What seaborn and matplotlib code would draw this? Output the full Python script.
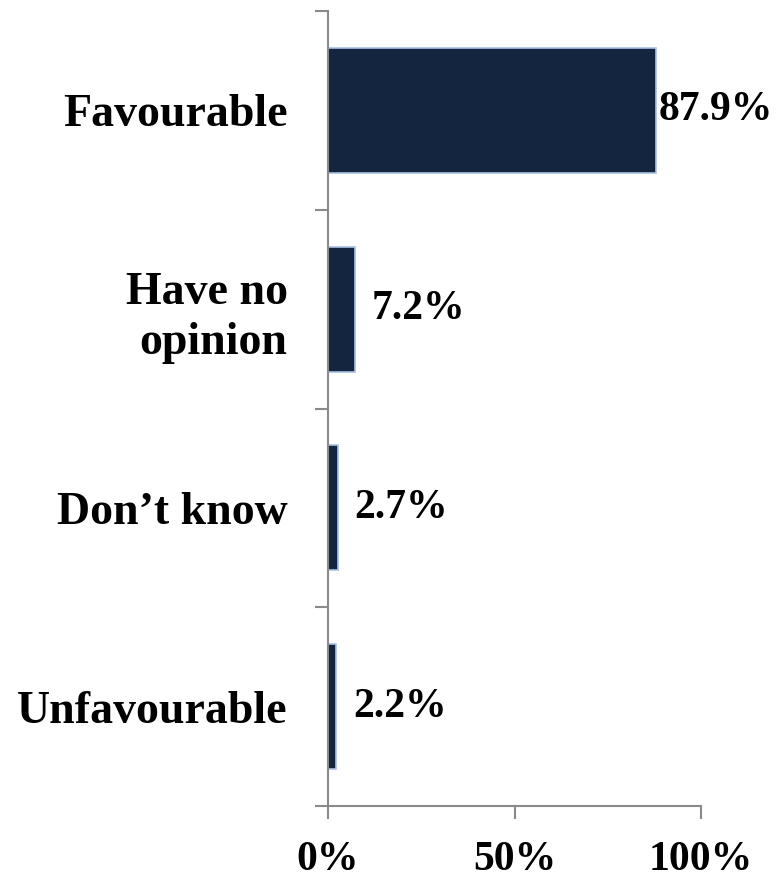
import numpy as np
import matplotlib
matplotlib.use("Agg")
import matplotlib.pyplot as plt
import seaborn as sns

categories = ["Favourable", "Have no\nopinion", "Don\u2019t know", "Unfavourable"]
values = [87.9, 7.2, 2.7, 2.2]
value_labels = ["87.9%", "7.2%", "2.7%", "2.2%"]
x_ticks = [0, 50, 100]
x_tick_labels = ["0%", "50%", "100%"]

sns.set_style("white")
plt.rcParams["font.family"] = ["Liberation Serif", "DejaVu Serif"]
plt.rcParams["font.weight"] = "bold"
plt.rcParams["text.color"] = "black"
plt.rcParams["xtick.labelcolor"] = "black"
plt.rcParams["ytick.labelcolor"] = "black"

fig = plt.figure(figsize=(7.76, 8.86), dpi=100)
ax = fig.add_axes([328 / 776, 1 - 806 / 886, (701 - 328) / 776, (806 - 11) / 886])

sns.barplot(x=values, y=categories, orient="h", color="#14263f", saturation=1,
            edgecolor="#a9c0e4", linewidth=1.2, width=0.63, ax=ax)

ax.set_xlim(0, 100)
ax.set_ylim(3.5, -0.5)
ax.set_xlabel("")
ax.set_ylabel("")

grey = "#8a8a8a"
for side in ["top", "right"]:
    ax.spines[side].set_visible(False)
for side in ["left", "bottom"]:
    ax.spines[side].set_color(grey)
    ax.spines[side].set_linewidth(1.5)

ax.set_xticks(x_ticks, labels=x_tick_labels)
ax.tick_params(axis="x", bottom=True, direction="out", length=9.5, width=1.5, color=grey,
               labelsize=30, pad=16, labelcolor="black")

ax.set_yticks(range(len(categories)), labels=categories)
ax.set_yticks(np.arange(-0.5, len(categories), 1), minor=True)
ax.tick_params(axis="y", which="major", left=False, length=0, labelsize=33, pad=29,
               labelcolor="black")
ax.tick_params(axis="y", which="minor", left=True, direction="out", length=9.5,
               width=1.5, color=grey)
for lab in ax.get_yticklabels():
    lab.set_fontweight("bold")
    lab.set_linespacing(1.25)
for lab in ax.get_xticklabels():
    lab.set_fontweight("bold")

for i, (v, txt) in enumerate(zip(values, value_labels)):
    pad = 2 if v > 80 else 12
    ax.annotate(txt, xy=(v, i), xytext=(pad, 0), textcoords="offset points",
                va="center", ha="left", fontsize=30, fontweight="bold", color="black")

fig.savefig("out.png", dpi=100)
